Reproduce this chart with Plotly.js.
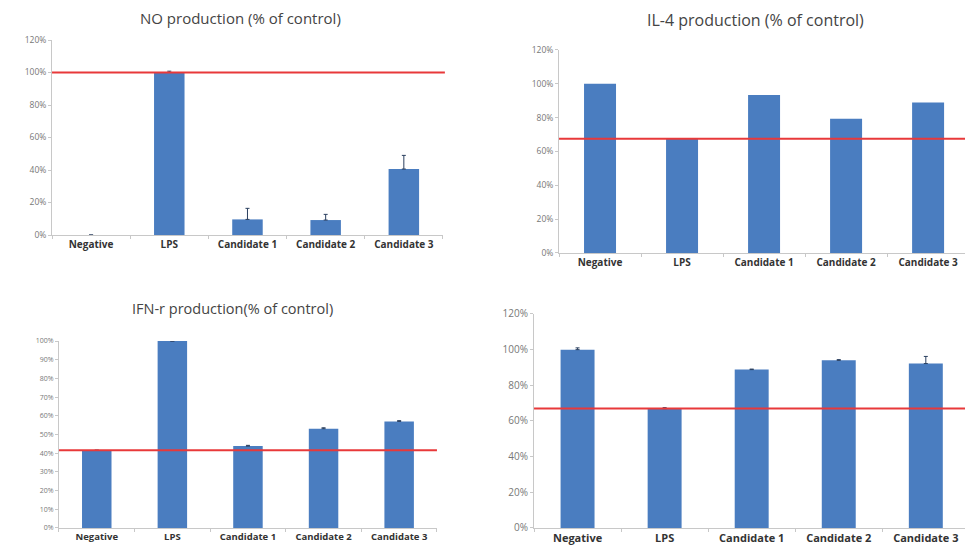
<!DOCTYPE html>
<html>
<head>
<meta charset="utf-8">
<script src="https://cdn.plot.ly/plotly-3.0.1.min.js"></script>
<style>html,body{margin:0;padding:0;background:#fff;}#chart{width:965px;height:545px;}</style>
</head>
<body>
<div id="chart"></div>
<script>
const categories = ["Negative", "LPS", "Candidate 1", "Candidate 2", "Candidate 3"];

const noValues = [0, 100, 9.6, 9.2, 40.6];
const noErrors = [null, 0.8, 6.8, 3.5, 8.4];

const il4Values = [100, 67.8, 93.4, 79.3, 88.9];
const il4Errors = [null, null, null, null, null];

const ifnValues = [41.6, 100, 43.8, 53.1, 57.0];
const ifnErrors = [null, null, 0.4, 0.5, 0.4];

const p4Values = [100, 66.9, 88.8, 94.0, 92.2];
const p4Errors = [1.0, 0.6, 0.3, 0.4, 4.0];

const refLines = [100, 67.5, 41.6, 67];

const titles = ["NO production (% of control)", "IL-4 production (% of control)", "IFN-r production(% of control)", ""];

const yTicks120 = [0, 20, 40, 60, 80, 100, 120];
const yTicks100 = [0, 10, 20, 30, 40, 50, 60, 70, 80, 90, 100];

const barColor = "#4a7dc0";
const redColor = "#e8393a";

function barTrace(vals, errs, ax) {
  return {
    type: "bar", x: categories, y: vals,
    xaxis: "x" + ax, yaxis: "y" + ax,
    width: 0.39,
    marker: {color: barColor, line: {width: 0}},
    error_y: {type: "data", array: errs, arrayminus: [0, 0, 0, 0, 0], symmetric: false,
      visible: errs.some(v => v !== null), color: "#2a3f5f", thickness: 1, width: 2},
    hoverinfo: "none", showlegend: false
  };
}

const data = [
  barTrace(noValues, noErrors, ""),
  barTrace(il4Values, il4Errors, "2"),
  barTrace(ifnValues, ifnErrors, "3"),
  barTrace(p4Values, p4Errors, "4")
];

function xAxis(domain, range, size, anchor) {
  return {
    domain: domain, range: range, anchor: anchor, type: "category",
    showline: true, linecolor: "#c8c8c8", linewidth: 1,
    ticks: "outside", tickson: "boundaries", ticklen: 3, tickcolor: "#c8c8c8",
    showgrid: false, zeroline: false, fixedrange: true,
    tickfont: {family: "Open Sans, Arial, sans-serif", size: size, color: "#333", weight: "bold"}
  };
}
function yAxis(domain, range, ticks, size, anchor) {
  return {
    domain: domain, range: range, anchor: anchor,
    tickvals: ticks, ticktext: ticks.map(v => v + "%"),
    showline: true, linecolor: "#c8c8c8", linewidth: 1,
    ticks: "outside", ticklen: 3, tickcolor: "#c8c8c8",
    showgrid: false, zeroline: false, fixedrange: true,
    tickfont: {family: "Open Sans, Arial, sans-serif", size: size, color: "#777"}
  };
}

function refShape(ax, val, x0, x1) {
  return {type: "line", xref: "x" + ax + " domain", yref: "y" + ax,
    x0: x0, x1: x1, y0: val, y1: val, line: {color: redColor, width: 2}};
}

function titleFont(size) {
  return {family: "Open Sans, Arial, sans-serif", size: size, color: "#444"};
}

const layout = {
  width: 965, height: 545,
  margin: {l: 0, r: 0, t: 0, b: 0},
  paper_bgcolor: "#fff", plot_bgcolor: "#fff",
  xaxis: xAxis([0.0539, 0.459], [-0.5, 4.5], 10, "y"),
  yaxis: yAxis([0.5688, 0.9266], [0, 120], yTicks120, 8.5, "x"),
  xaxis2: xAxis([0.5793, 1], [-0.5, 4.45], 10, "y2"),
  yaxis2: yAxis([0.5358, 0.9083], [0, 120], yTicks120, 8.5, "x2"),
  xaxis3: xAxis([0.0611, 0.4528], [-0.5, 4.5], 9.5, "y3"),
  yaxis3: yAxis([0.0312, 0.3743], [0, 100], yTicks100, 7, "x3"),
  xaxis4: xAxis([0.5534, 1], [-0.5, 4.45], 11, "y4"),
  yaxis4: yAxis([0.0312, 0.4239], [0, 120], yTicks120, 10, "x4"),
  shapes: [
    refShape("", refLines[0], 0, 1.005),
    refShape("2", refLines[1], 0, 1),
    refShape("3", refLines[2], 0, 1),
    refShape("4", refLines[3], 0, 1)
  ],
  annotations: [
    {text: titles[0], xref: "paper", yref: "paper", x: 240 / 965, y: 1 - 18 / 545, showarrow: false, font: titleFont(15), xanchor: "center", yanchor: "middle"},
    {text: titles[1], xref: "paper", yref: "paper", x: 755 / 965, y: 1 - 20 / 545, showarrow: false, font: titleFont(16), xanchor: "center", yanchor: "middle"},
    {text: titles[2], xref: "paper", yref: "paper", x: 232 / 965, y: 1 - 308 / 545, showarrow: false, font: titleFont(14.5), xanchor: "center", yanchor: "middle"}
  ]
};

Plotly.newPlot("chart", data, layout, {displayModeBar: false, staticPlot: true});
</script>
</body>
</html>
